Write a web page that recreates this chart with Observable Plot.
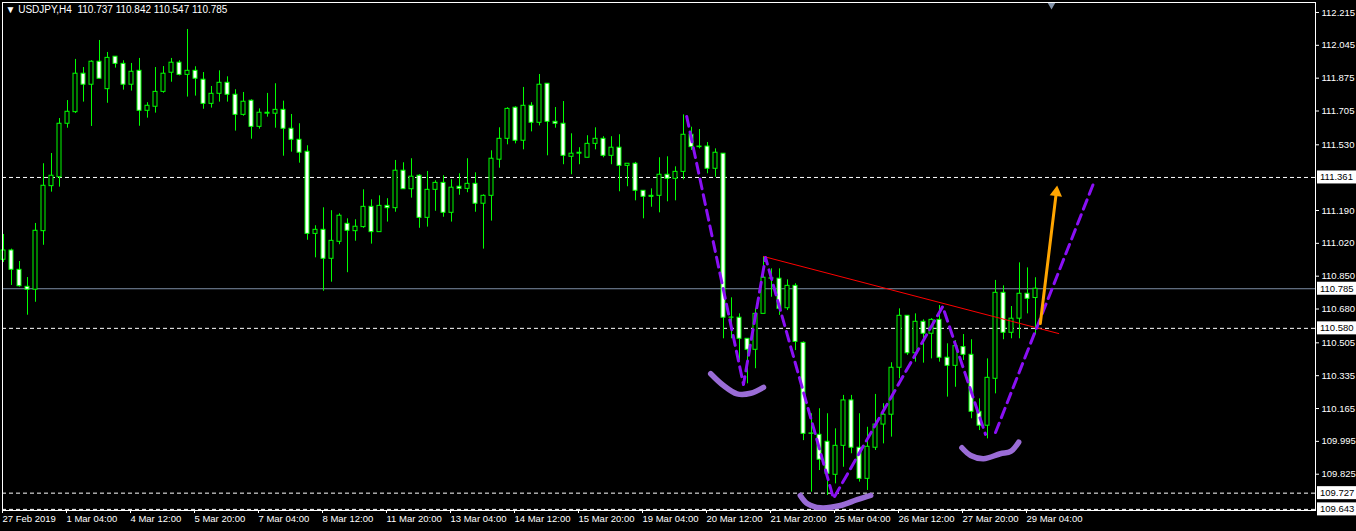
<!DOCTYPE html>
<html><head><meta charset="utf-8">
<script src="https://cdn.jsdelivr.net/npm/d3@7"></script>
<script src="https://cdn.jsdelivr.net/npm/@observablehq/plot@0.6"></script>
<style>
html,body{margin:0;padding:0;background:#000;overflow:hidden;}
#chart svg{display:block;}
</style></head><body><div id="chart"></div>
<script>
// ---- data (USDJPY H4, one entry per bar, bar 0 = 27 Feb 2019 20:00) ----
const openP = [110.935,110.983,110.883,110.795,110.780,111.083,111.316,111.362,111.639,111.699,
111.898,111.841,111.960,111.818,111.986,111.949,111.841,111.913,111.706,111.727,
111.804,111.903,111.955,111.892,111.913,111.867,111.742,111.794,111.851,111.789,
111.685,111.758,111.623,111.691,111.691,111.711,111.613,111.556,111.494,111.069,
111.090,110.940,111.028,111.121,111.083,111.104,111.209,111.078,111.214,111.202,
111.396,111.300,111.370,111.152,111.297,111.333,111.178,111.313,111.302,111.328,
111.225,111.266,111.453,111.561,111.722,111.551,111.732,111.644,111.846,111.649,
111.639,111.468,111.484,111.463,111.535,111.561,111.473,111.515,111.421,111.432,
111.292,111.266,111.266,111.375,111.354,111.390,111.582,111.518,111.521,111.406,
111.484,110.635,110.635,110.526,110.469,110.655,110.837,110.837,110.684,110.800,
110.505,110.034,110.029,109.993,109.822,109.972,110.207,109.962,109.801,109.962,
110.082,110.133,110.376,110.645,110.451,110.614,110.552,110.624,110.428,110.386,
110.483,110.443,110.148,110.076,110.319,110.764,110.557,110.630,110.759,110.737];
const highP = [111.066,110.990,110.926,110.843,111.123,111.432,111.485,111.666,111.759,111.972,
111.930,111.965,112.070,112.008,111.986,111.965,111.951,111.977,111.748,111.930,
111.935,111.977,111.965,112.127,111.934,111.904,111.832,111.913,111.882,111.815,
111.801,111.763,111.716,111.796,111.846,111.756,111.687,111.639,111.525,111.111,
111.204,111.189,111.173,111.147,111.142,111.297,111.245,111.266,111.251,111.449,
111.437,111.458,111.375,111.392,111.344,111.370,111.349,111.380,111.458,111.385,
111.271,111.499,111.618,111.722,111.727,111.827,111.748,111.894,111.846,111.723,
111.754,111.587,111.515,111.577,111.618,111.572,111.572,111.582,111.432,111.439,
111.292,111.302,111.463,111.468,111.416,111.685,111.621,111.609,111.542,111.509,
111.484,110.738,110.655,110.526,110.681,110.952,110.888,110.888,110.831,110.811,
110.510,110.138,110.164,110.138,110.060,110.233,110.233,110.138,110.068,110.238,
110.190,110.402,110.681,110.645,110.655,110.624,110.630,110.698,110.500,110.517,
110.548,110.521,110.215,110.422,110.828,110.800,110.693,110.919,110.893,110.842];
const lowP = [110.921,110.802,110.793,110.648,110.715,111.010,111.285,111.311,111.616,111.692,
111.751,111.625,111.872,111.745,111.927,111.813,111.808,111.626,111.668,111.694,
111.797,111.854,111.887,111.777,111.782,111.714,111.720,111.751,111.751,111.601,
111.678,111.559,111.611,111.673,111.616,111.471,111.492,111.435,111.036,110.945,
110.772,110.819,111.013,110.868,111.031,111.098,111.016,111.078,111.130,111.181,
111.300,111.254,111.098,111.104,111.186,111.155,111.130,111.269,111.282,111.181,
110.990,111.135,111.409,111.530,111.535,111.504,111.597,111.628,111.473,111.616,
111.427,111.375,111.427,111.463,111.504,111.463,111.427,111.287,111.313,111.240,
111.147,111.207,111.178,111.235,111.240,111.349,111.501,111.509,111.380,111.362,
110.526,110.526,110.414,110.293,110.371,110.655,110.741,110.647,110.672,110.465,
109.999,109.732,109.844,109.715,109.775,109.861,109.931,109.784,109.741,109.948,
109.982,110.017,110.319,110.440,110.405,110.400,110.422,110.405,110.224,110.275,
110.414,110.112,110.051,110.008,110.241,110.521,110.526,110.526,110.655,110.547];
const closeP = [110.983,110.883,110.798,110.780,111.085,111.318,111.370,111.639,111.701,111.898,
111.841,111.960,111.872,111.980,111.949,111.841,111.908,111.706,111.732,111.804,
111.898,111.955,111.892,111.913,111.872,111.742,111.794,111.851,111.789,111.685,
111.753,111.623,111.696,111.696,111.711,111.613,111.556,111.489,111.069,111.090,
110.940,111.033,111.163,111.085,111.106,111.209,111.078,111.214,111.202,111.396,
111.300,111.365,111.152,111.297,111.333,111.178,111.308,111.302,111.328,111.225,
111.266,111.458,111.561,111.716,111.551,111.732,111.644,111.841,111.649,111.639,
111.473,111.484,111.489,111.535,111.561,111.473,111.515,111.421,111.432,111.292,
111.261,111.261,111.375,111.354,111.390,111.582,111.518,111.521,111.406,111.489,
110.635,110.636,110.526,110.469,110.655,110.842,110.839,110.681,110.800,110.510,
110.034,110.036,109.900,109.827,109.972,110.207,109.962,109.801,109.967,110.082,
110.133,110.376,110.645,110.451,110.614,110.552,110.624,110.428,110.386,110.488,
110.443,110.148,110.076,110.324,110.764,110.557,110.630,110.759,110.733,110.785];

const timeTickBars = [0,8,16,24,32,40,48,56,64,72,80,88,96,104,112,120,128];
const timeLabels = ["27 Feb 2019","1 Mar 04:00","4 Mar 12:00","5 Mar 20:00","7 Mar 04:00",
"8 Mar 12:00","11 Mar 20:00","13 Mar 04:00","14 Mar 12:00","15 Mar 20:00","19 Mar 04:00",
"20 Mar 12:00","21 Mar 20:00","25 Mar 04:00","26 Mar 12:00","27 Mar 20:00","29 Mar 04:00"];
const priceTicks = [112.215,112.045,111.875,111.705,111.530,111.190,111.020,110.850,
110.680,110.505,110.335,110.165,109.995,109.825];
const dashedLevels = [111.361,110.580,109.727,109.643];
const bidLevel = [110.785];
const boxLevels = [111.361,110.785,110.580,109.727,109.643];

// annotations drawn on the chart
const trendBar = [95, 131.9], trendPrice = [110.952, 110.553];
const zigBar = [85.4, 92.5, 95.25, 103.75, 117.4, 122.75];
const zigPrice = [111.677, 110.289, 110.947, 109.699, 110.693, 110.031];
const legBar = [124, 136.25], legPrice = [110.041, 111.330];
const arrowBar = [129.6, 131.6], arrowPrice = [110.605, 111.283];
const smile1Bar = [88.4, 90.0, 91.7, 93.4, 95.0], smile1Price = [110.345, 110.284, 110.241, 110.244, 110.275];
const smile2Bar = [99.6, 100.5, 102.1, 104.6, 106.7, 108.4], smile2Price = [109.715, 109.672, 109.651, 109.663, 109.693, 109.715];
const smile3Bar = [119.8, 120.9, 122.5, 124.6, 125.9, 126.9], smile3Price = [109.962, 109.922, 109.905, 109.931, 109.943, 109.991];
const shiftMarkBar = [131];
const header = "\u25BC\u00A0USDJPY,H4\u00A0\u00A0110.737 110.842 110.547 110.785";

// ---- build ----
const bars = openP.map((o, i) => ({i, o, h: highP[i], l: lowP[i], c: closeP[i]}));
const pts = (xs, ys) => xs.map((x, k) => ({x, y: ys[k]}));
const GREEN = "#00ff00";
const PURPLE = "#8a10f5";
const SMILE = "#9a6cd6";
const FONT = "'Liberation Sans', Arial, sans-serif";

const chart = Plot.plot({
  width: 1356, height: 531,
  marginLeft: 2, marginRight: 41, marginTop: 2, marginBottom: 21,
  x: {domain: [-0.125, 164]},
  y: {domain: [109.6372, 112.2666]},
  style: {background: "#000", color: "#fff", fontFamily: FONT, fontSize: "9.5px"},
  marks: [
    Plot.ruleY(dashedLevels, {stroke: "#fff", strokeDasharray: "4,3"}),
    Plot.ruleY(bidLevel, {stroke: "#7d8ea5"}),
    Plot.ruleX(bars, {x: "i", y1: "l", y2: "h", stroke: GREEN}),
    Plot.rect(bars, {x1: d => d.i - 0.25, x2: d => d.i + 0.25, y1: "o", y2: "c",
      fill: d => d.c < d.o ? "#fff" : "#000", stroke: GREEN, strokeWidth: 1}),
    Plot.line(pts(trendBar, trendPrice), {x: "x", y: "y", stroke: "#ff0000", strokeWidth: 1}),
    Plot.line(pts(smile1Bar, smile1Price), {x: "x", y: "y", curve: "catmull-rom", stroke: SMILE, strokeWidth: 5.5, strokeLinecap: "round"}),
    Plot.line(pts(smile2Bar, smile2Price), {x: "x", y: "y", curve: "catmull-rom", stroke: SMILE, strokeWidth: 5.5, strokeLinecap: "round"}),
    Plot.line(pts(smile3Bar, smile3Price), {x: "x", y: "y", curve: "catmull-rom", stroke: SMILE, strokeWidth: 5.5, strokeLinecap: "round"}),
    Plot.line(pts(zigBar, zigPrice), {x: "x", y: "y", stroke: PURPLE, strokeWidth: 3, strokeDasharray: "10,6"}),
    Plot.line(pts(legBar, legPrice), {x: "x", y: "y", stroke: PURPLE, strokeWidth: 3, strokeDasharray: "10,6"}),
    Plot.line(pts(arrowBar, arrowPrice), {x: "x", y: "y", stroke: "#ffa500", strokeWidth: 3}),
    Plot.dot(pts(arrowBar, arrowPrice).slice(-1), {x: "x", y: "y", symbol: "triangle", r: 4.6, fill: "#ffa500", rotate: 7}),
    Plot.dot(shiftMarkBar, {x: d => d, frameAnchor: "top", symbol: "triangle", rotate: 180, r: 3.2, fill: "#8494aa", dy: 2}),
    Plot.frame({stroke: "#fff"}),
    Plot.axisY(priceTicks, {anchor: "right", tickSize: 3, tickPadding: 3, tickFormat: d => d.toFixed(3), stroke: "#fff", fill: "#fff"}),
    Plot.axisX(timeTickBars, {anchor: "bottom", tickSize: 3, tickPadding: 2, textAnchor: "start",
      tickFormat: d => timeLabels[timeTickBars.indexOf(d)], stroke: "#fff", fill: "#fff", dx: -1}),
    Plot.text([header], {text: d => d, frameAnchor: "top-left", dx: 3, dy: 3, lineAnchor: "top", textAnchor: "start", fill: "#fff", fontSize: 10})
  ]
});
document.getElementById("chart").append(chart);

// boxed level labels on the price scale, placed through the chart's own y scale
const yScale = chart.scale("y");
const NS = "http://www.w3.org/2000/svg";
const g = document.createElementNS(NS, "g");
g.setAttribute("font-family", FONT);
g.setAttribute("font-size", "9.5");
g.setAttribute("text-anchor", "start");
const right = 1356 - 41;
for (const v of boxLevels) {
  const py = yScale.apply(v);
  const r = document.createElementNS(NS, "rect");
  r.setAttribute("x", right + 2);
  r.setAttribute("y", py - 6.5);
  r.setAttribute("width", 41);
  r.setAttribute("height", 13);
  r.setAttribute("fill", "#fff");
  g.appendChild(r);
  const t = document.createElementNS(NS, "text");
  t.setAttribute("x", right + 5);
  t.setAttribute("y", py);
  t.setAttribute("dy", "0.35em");
  t.setAttribute("text-anchor", "start");
  t.setAttribute("fill", "#000");
  t.textContent = v.toFixed(3);
  g.appendChild(t);
}
chart.appendChild(g);
</script></body></html>
